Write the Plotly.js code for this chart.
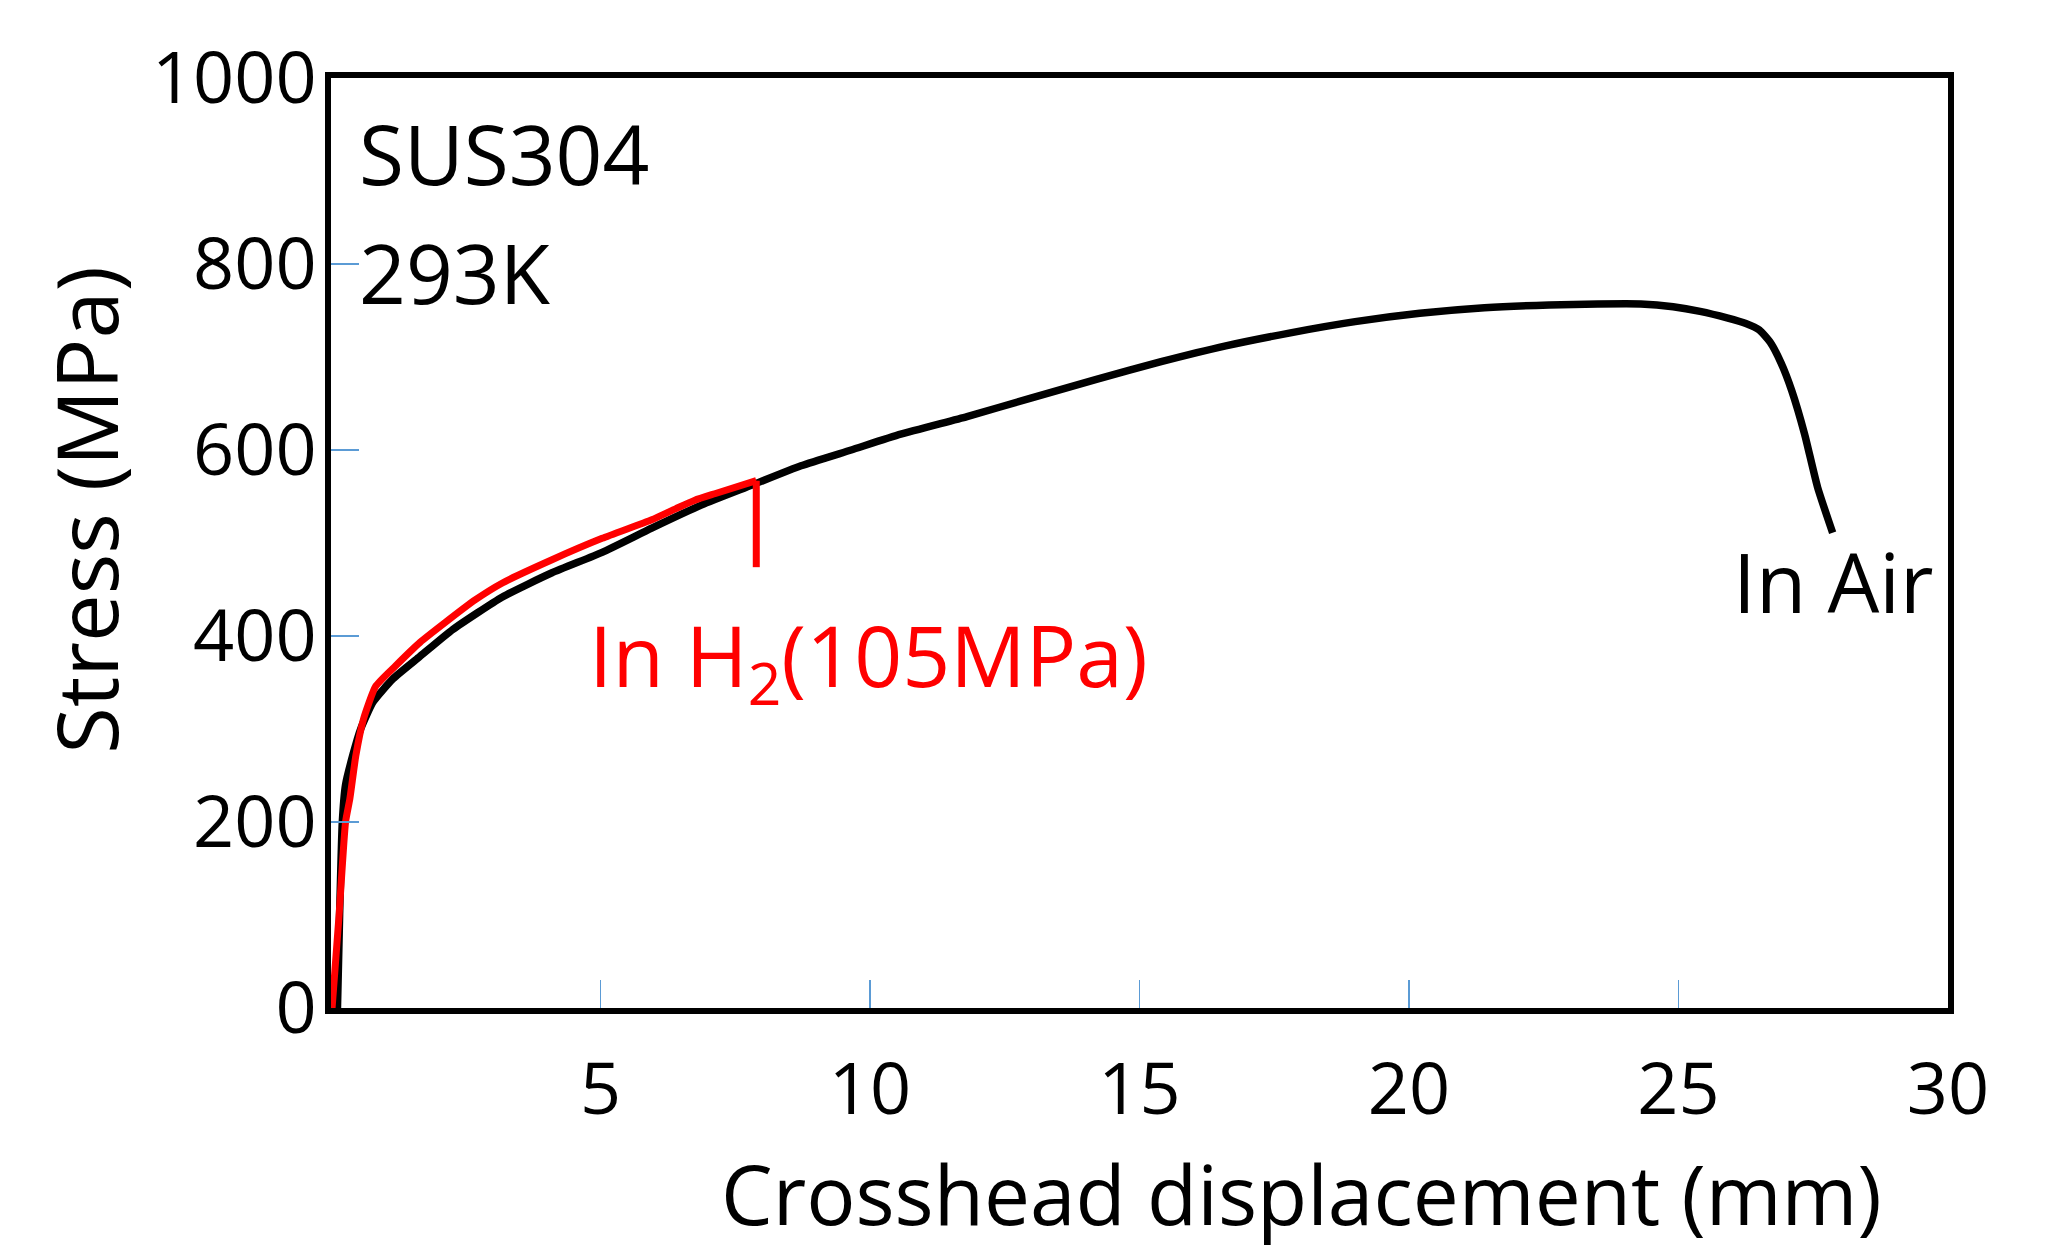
<!DOCTYPE html>
<html>
<head>
<meta charset="utf-8">
<script src="https://cdn.plot.ly/plotly-3.0.1.min.js"></script>
<style>
  html, body { margin: 0; padding: 0; background: #ffffff; }
  #chart { width: 2048px; height: 1247px; }
</style>
</head>
<body>
<div id="chart"></div>
<script>
// ---- Data ----
// Crosshead displacement (mm) and stress (MPa), SUS304 at 293 K
const airX = [0.12, 0.16, 0.21, 0.27, 0.41, 0.55, 0.78, 1.15, 1.65, 2.26, 3.18, 4.10, 5.03, 5.95, 6.88, 7.80, 8.72, 9.65, 10.57, 11.8, 13.0, 14.2, 15.4, 16.6, 17.8, 19.0, 20.2, 21.4, 22.6, 23.5, 24.3, 24.9, 25.4, 25.9, 26.25, 26.5, 26.7, 26.9, 27.1, 27.34, 27.58, 27.86];
const airY = [0, 100, 200, 240, 273, 300, 329, 354, 378, 407, 442, 468, 490, 516, 541, 562, 583, 600, 617, 636, 656, 676, 695, 712, 726, 738, 747, 753, 756, 757, 757, 754, 749, 742, 736, 729, 716, 694, 664, 617, 560, 511];

const h2X = [0.02, 0.15, 0.27, 0.35, 0.46, 0.60, 0.83, 1.20, 1.65, 2.13, 2.68, 3.18, 4.10, 5.03, 5.95, 6.40, 6.75, 7.12, 7.89, 7.89];
const h2Y = [0, 100, 200, 225, 271, 310, 346, 368, 393, 415, 439, 457, 482, 505, 525, 537, 546, 553, 567, 474];

const xTickVals = [5, 10, 15, 20, 25, 30];
const xTickText = ['5', '10', '15', '20', '25', '30'];
const yTickVals = [0, 200, 400, 600, 800, 1000];
const yTickText = ['0', '200', '400', '600', '800', '1000'];

const xTitle = 'Crosshead displacement (mm)';
const yTitle = 'Stress (MPa)';
const materialLabel = 'SUS304';
const tempLabel = '293K';
const airLabel = 'In Air';
const h2Label = 'In H<sub>2</sub>(105MPa)';

// ---- Chart ----
const FONT = '"Open Sans", "Noto Sans", "DejaVu Sans", sans-serif';
const nH2 = h2X.length;

const traces = [
  {
    x: airX, y: airY, type: 'scatter', mode: 'lines', name: airLabel,
    line: { color: '#000000', width: 7.5, shape: 'spline', smoothing: 0.5 }, hoverinfo: 'skip'
  },
  {
    // hydrogen curve up to the fracture point
    x: h2X.slice(0, nH2 - 1), y: h2Y.slice(0, nH2 - 1), type: 'scatter', mode: 'lines', name: 'In H2(105MPa)',
    line: { color: '#ff0000', width: 7, shape: 'spline', smoothing: 0.5 }, hoverinfo: 'skip'
  },
  {
    // sudden drop at fracture
    x: h2X.slice(nH2 - 2), y: h2Y.slice(nH2 - 2), type: 'scatter', mode: 'lines', name: 'In H2 fracture',
    line: { color: '#ff0000', width: 7 }, hoverinfo: 'skip'
  }
];

const layout = {
  width: 2048, height: 1247, autosize: false,
  paper_bgcolor: '#ffffff', plot_bgcolor: '#ffffff',
  showlegend: false,
  font: { family: FONT, color: '#000000' },
  margin: { l: 331, r: 100, t: 78, b: 239, pad: 0, autoexpand: false },
  xaxis: {
    range: [0, 30], fixedrange: true,
    showgrid: false, zeroline: false,
    showline: true, linecolor: '#000000', linewidth: 6, mirror: true,
    ticks: 'inside', ticklen: 28, tickwidth: 1.5, tickcolor: '#5b9bd5',
    tickmode: 'array', tickvals: xTickVals, ticktext: xTickText,
    tickfont: { family: FONT, size: 72, color: '#000000' },
    ticklabelstandoff: 14
  },
  yaxis: {
    range: [0, 1000], fixedrange: true,
    showgrid: false, zeroline: false,
    showline: true, linecolor: '#000000', linewidth: 6, mirror: true,
    ticks: 'inside', ticklen: 28, tickwidth: 1.5, tickcolor: '#5b9bd5',
    tickmode: 'array', tickvals: yTickVals, ticktext: yTickText,
    tickfont: { family: FONT, size: 72, color: '#000000' },
    ticklabelstandoff: -6
  },
  annotations: [
    { text: materialLabel, xref: 'x', yref: 'y', x: 0.48, y: 919, xanchor: 'left', yanchor: 'middle',
      showarrow: false, font: { family: FONT, size: 82, color: '#000000' } },
    { text: tempLabel, xref: 'x', yref: 'y', x: 0.48, y: 791, xanchor: 'left', yanchor: 'middle',
      showarrow: false, font: { family: FONT, size: 82, color: '#000000' } },
    { text: airLabel, xref: 'x', yref: 'y', x: 27.87, y: 459, xanchor: 'center', yanchor: 'middle',
      showarrow: false, font: { family: FONT, size: 82, color: '#000000' } },
    { text: h2Label, xref: 'x', yref: 'y', x: 4.75, y: 375, xanchor: 'left', yanchor: 'middle',
      showarrow: false, font: { family: FONT, size: 84, color: '#ff0000' } },
    { text: xTitle, xref: 'paper', yref: 'paper', x: 0.600, y: -0.199, xanchor: 'center', yanchor: 'middle',
      showarrow: false, font: { family: FONT, size: 82, color: '#000000' } },
    { text: yTitle, xref: 'paper', yref: 'paper', x: -0.152, y: 0.535, xanchor: 'center', yanchor: 'middle',
      textangle: -90, showarrow: false, font: { family: FONT, size: 85, color: '#000000' } }
  ]
};

Plotly.newPlot('chart', traces, layout, { staticPlot: true, displayModeBar: false });
</script>
</body>
</html>
